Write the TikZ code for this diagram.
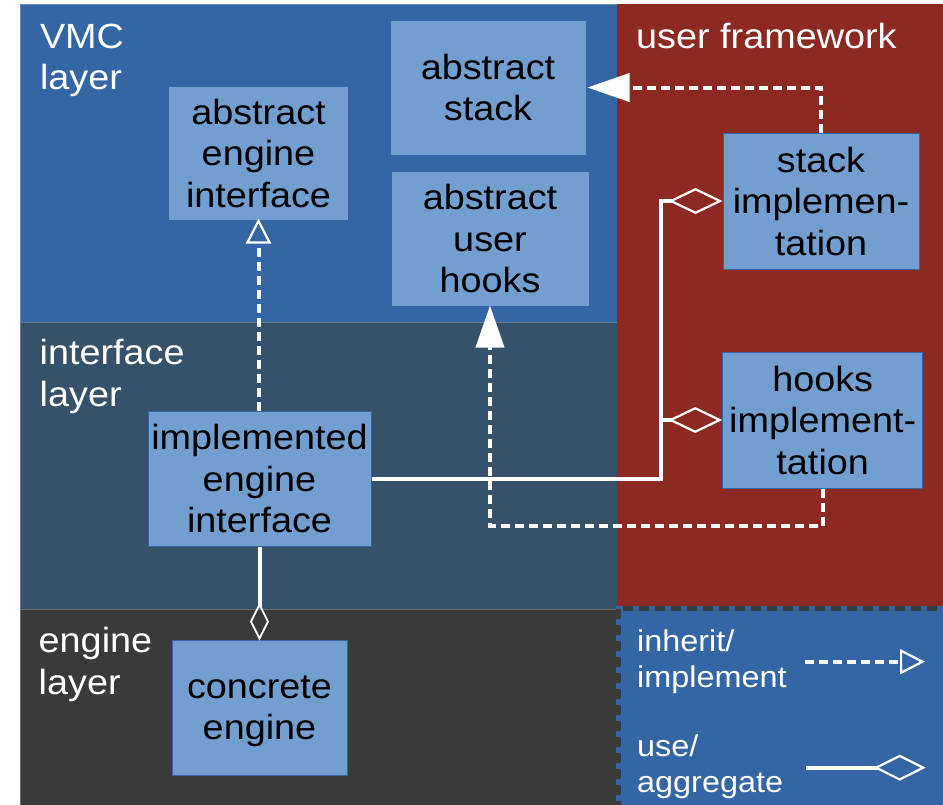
\documentclass[tikz,border=0pt]{standalone}
\usepackage{fontspec}
\setmainfont{Liberation Sans}[FakeStretch=1.08]
\usetikzlibrary{arrows.meta}
\definecolor{vmcblue}{HTML}{3465A4}
\definecolor{ifacecol}{HTML}{36526A}
\definecolor{enginecol}{HTML}{383B3A}
\definecolor{userred}{HTML}{8C2922}
\definecolor{boxfill}{HTML}{729FCF}
\definecolor{boxborder}{HTML}{3465A4}
\tikzset{
  mainfont/.style={font=\fontsize{35}{41.5}\selectfont},
  legfont/.style={font=\fontsize{30}{35.5}\selectfont},
  layer/.style={line width=0.8pt},
  umlbox/.style={draw=boxborder, fill=boxfill, line width=1pt, inner sep=0pt,
    align=center, text=black, mainfont},
  lbl/.style={text=white, align=left, anchor=north west, inner sep=0pt, mainfont},
  leglbl/.style={text=white, align=left, anchor=north west, inner sep=0pt, legfont},
  inhline/.style={draw=white, line width=4pt, dash pattern=on 9pt off 5pt},
  useline/.style={draw=white, line width=4pt},
  opentri/.style={-{Triangle[open, length=25pt, width=25pt, line width=2.2pt]}},
  filltri/.style={-{Triangle[length=42pt, width=28pt, fill=white]}},
  aggbig/.style={-{Diamond[open, length=54pt, width=26pt, line width=2.2pt]}},
  aggsmall/.style={-{Diamond[open, length=38pt, width=19pt, line width=1.8pt]}},
  legborder/.style={draw=enginecol, line width=5pt, dash pattern=on 10pt off 6pt},
}
\begin{document}
\begin{tikzpicture}[x=1pt, y=-1pt]
\useasboundingbox (0,0) rectangle (943,804);
% layers
\filldraw[layer, fill=vmcblue, draw=vmcblue!75!white] (20,4) rectangle (617,322);
\filldraw[layer, fill=ifacecol, draw=ifacecol!75!white] (20,322) rectangle (617,609);
\filldraw[layer, fill=enginecol, draw=enginecol!75!white] (20,609) rectangle (950,810);
\fill[userred] (617,4) rectangle (950,605.5);
% legend box
\fill[vmcblue] (616,605.5) rectangle (955,815);
\draw[legborder] (618,608.5) rectangle (955,815);

% layer labels
\node[lbl] (lvmc) at (39.8,23.5) {VMC\\layer};
\node[lbl] (liface) at (39.5,339) {interface\\layer};
\node[lbl] (lengine) at (38.5,627.3) {engine\\layer};
\node[lbl] (luser) at (636,22.5) {user framework};

% boxes
\node[umlbox, minimum width=180pt, minimum height=134pt] (aei) at (258.5,153) {abstract\\engine\\interface};
\node[umlbox, minimum width=196pt, minimum height=135pt] (as) at (488,87.5) {abstract\\stack};
\node[umlbox, minimum width=198pt, minimum height=135pt] (auh) at (490,238.5) {abstract\\user\\hooks};
\node[umlbox, minimum width=196pt, minimum height=136pt] (si) at (821,201) {stack\\implemen-\\tation};
\node[umlbox, minimum width=200pt, minimum height=136pt] (hi) at (822.7,420) {hooks\\implement-\\tation};
\node[umlbox, minimum width=223pt, minimum height=135pt] (iei) at (259.5,478.5) {implemented\\engine\\interface};
\node[umlbox, minimum width=175pt, minimum height=135pt, text depth=0pt] (ce) at (259.5,707.5) {concrete\\engine};

% inheritance / implementation
\draw[inhline, opentri] (aei.south |- iei.north) -- ([yshift=2pt]aei.south);
\draw[inhline, filltri] (si.north) |- ([xshift=1pt]as.east);
\draw[inhline, filltri] (hi.south) -- ++(0,37.5) -| ([yshift=1pt]auh.south);

% use / aggregation
\coordinate (j) at (660.5,478.5);
\draw[useline, aggbig] (iei.east) -- (j) |- (si.west);
\draw[useline, aggbig] (j |- hi.west) -- (hi.west);
\draw[useline, aggsmall] (iei.south) -- ([yshift=-1pt]ce.north);

% legend
\node[leglbl] (linh) at (637,630) {inherit/\\implement};
\node[leglbl] (luse) at (637,735) {use/\\aggregate};
\coordinate (l1a) at (805,661.7);
\coordinate (l1b) at (925,661.7);
\coordinate (l2a) at (806,767.7);
\coordinate (l2b) at (925.7,767.7);
\draw[inhline, -{Triangle[open, length=25pt, width=25pt, line width=2.2pt]}] (l1a) -- (l1b);
\draw[useline, -{Diamond[open, length=52pt, width=26pt, line width=2.2pt]}] (l2a) -- (l2b);
\end{tikzpicture}
\end{document}
